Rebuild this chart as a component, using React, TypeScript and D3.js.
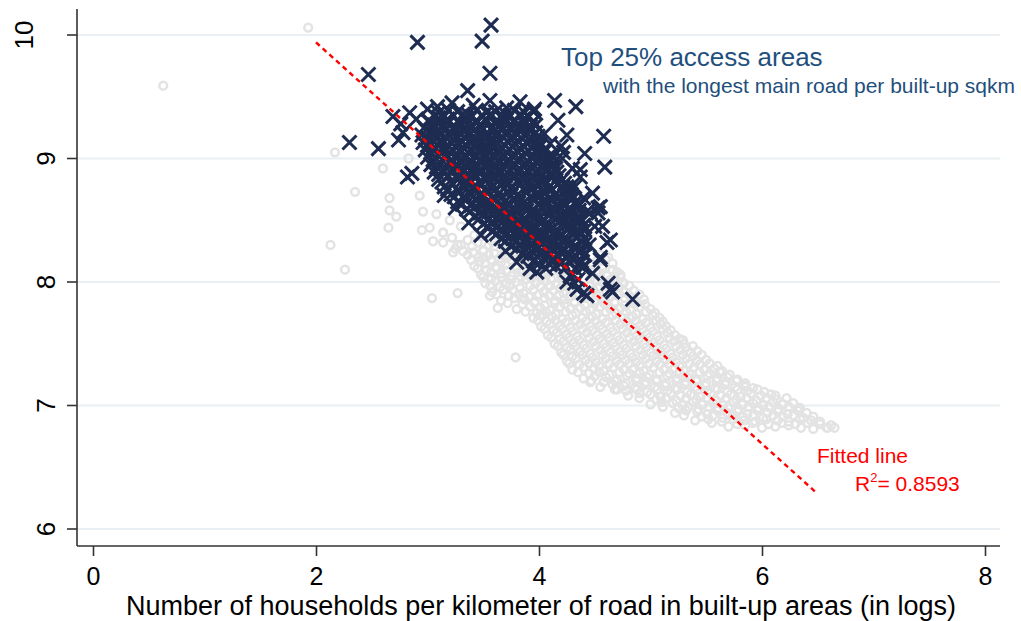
import { useEffect, useRef } from 'react';
import * as d3 from 'd3';

const xTicks = [0, 2, 4, 6, 8];
const yTicks = [6, 7, 8, 9, 10];

// fitted line end points (x, y)
const fitX = [2.0, 6.48];
const fitY = [9.94, 6.3];
const rSquared = '0.8593';

const xTitle = 'Number of households per kilometer of road in built-up areas (in logs)';
const noteTitle = 'Top 25% access areas';
const noteSub = 'with the longest main road per built-up sqkm';

// grey circles: all areas (outlying ones)
const greyOutliers: [number, number][] = [
  [1.93, 10.06], [0.63, 9.59], [2.17, 9.05], [2.13, 8.30], [2.26, 8.10], [2.60, 8.92], [2.35, 8.73],
  [2.66, 8.68], [2.66, 8.58], [2.72, 8.53], [2.65, 8.44], [2.93, 8.70], [2.96, 8.57], [2.95, 8.42],
  [2.83, 9.00], [3.04, 7.87], [3.27, 7.91], [3.56, 7.89], [3.63, 7.79], [3.79, 7.39], [4.46, 7.19],
  [4.70, 7.13], [6.59, 6.82], [6.12, 7.08], [6.34, 6.98], [3.23, 8.24], [3.14, 8.40], [3.27, 8.30],
  [3.20, 8.50], [3.08, 8.55], [3.50, 8.20], [4.01, 7.73], [4.73, 8.06], [5.29, 7.53], [5.85, 7.15],
];

// grey circles: the dense band
const greyBand: [number, number][] = [
  [3.02, 8.44], [3.14, 8.40], [3.30, 8.45], [3.42, 8.38],
  [3.05, 8.33], [3.22, 8.36], [3.36, 8.34], [3.48, 8.37], [3.58, 8.33],
  [3.25, 8.27], [3.40, 8.29], [3.50, 8.26], [3.60, 8.29], [3.70, 8.27],
  [3.36, 8.22], [3.46, 8.20], [3.55, 8.22], [3.64, 8.19], [3.73, 8.21], [3.82, 8.20], [4.55, 8.22], [4.62, 8.20],
  [3.42, 8.13], [3.52, 8.15], [3.61, 8.12], [3.70, 8.14], [3.79, 8.13], [3.88, 8.15], [3.97, 8.12], [4.48, 8.14], [4.57, 8.13], [4.66, 8.15],
  [3.48, 8.06], [3.57, 8.08], [3.66, 8.07], [3.75, 8.05], [3.84, 8.08], [3.93, 8.06], [4.02, 8.05], [4.11, 8.08], [4.20, 8.06], [4.52, 8.07], [4.61, 8.05], [4.70, 8.08],
  [3.52, 7.99], [3.61, 8.01], [3.70, 7.98], [3.79, 8.00], [3.88, 8.02], [3.97, 7.99], [4.06, 8.01], [4.15, 7.98], [4.24, 8.00], [4.50, 8.01], [4.58, 7.99], [4.67, 8.02], [4.76, 7.99],
  [3.58, 7.92], [3.68, 7.94], [3.77, 7.93], [3.86, 7.91], [3.95, 7.94], [4.04, 7.92], [4.13, 7.93], [4.22, 7.91], [4.31, 7.94], [4.40, 7.92], [4.49, 7.93], [4.58, 7.91], [4.67, 7.94], [4.76, 7.92], [4.85, 7.93],
  [3.66, 7.85], [3.78, 7.87], [3.87, 7.86], [3.96, 7.84], [4.05, 7.87], [4.14, 7.85], [4.23, 7.86], [4.32, 7.84], [4.41, 7.87], [4.50, 7.85], [4.59, 7.86], [4.68, 7.84], [4.77, 7.87], [4.86, 7.85], [4.94, 7.86],
  [3.80, 7.78], [3.92, 7.80], [4.01, 7.79], [4.10, 7.77], [4.19, 7.80], [4.28, 7.78], [4.37, 7.79], [4.46, 7.77], [4.55, 7.80], [4.64, 7.78], [4.73, 7.79], [4.82, 7.77], [4.91, 7.80], [5.00, 7.78],
  [3.95, 7.71], [4.03, 7.73], [4.12, 7.72], [4.21, 7.70], [4.30, 7.73], [4.39, 7.71], [4.48, 7.72], [4.57, 7.70], [4.66, 7.73], [4.75, 7.71], [4.84, 7.72], [4.93, 7.70], [5.02, 7.73], [5.08, 7.71],
  [4.02, 7.64], [4.10, 7.66], [4.19, 7.65], [4.28, 7.63], [4.37, 7.66], [4.46, 7.64], [4.55, 7.65], [4.64, 7.63], [4.73, 7.66], [4.82, 7.64], [4.91, 7.65], [5.00, 7.63], [5.09, 7.66], [5.14, 7.64],
  [4.08, 7.57], [4.16, 7.59], [4.25, 7.58], [4.34, 7.56], [4.43, 7.59], [4.52, 7.57], [4.61, 7.58], [4.70, 7.56], [4.79, 7.59], [4.88, 7.57], [4.97, 7.58], [5.06, 7.56], [5.15, 7.59], [5.22, 7.57],
  [4.14, 7.50], [4.22, 7.52], [4.31, 7.51], [4.40, 7.49], [4.49, 7.52], [4.58, 7.50], [4.67, 7.51], [4.76, 7.49], [4.85, 7.52], [4.94, 7.50], [5.03, 7.51], [5.12, 7.49], [5.21, 7.52], [5.30, 7.50],
  [4.20, 7.43], [4.28, 7.45], [4.37, 7.44], [4.46, 7.42], [4.55, 7.45], [4.64, 7.43], [4.73, 7.44], [4.82, 7.42], [4.91, 7.45], [5.00, 7.43], [5.09, 7.44], [5.18, 7.42], [5.27, 7.45], [5.36, 7.43], [5.42, 7.44],
  [4.25, 7.36], [4.33, 7.38], [4.42, 7.37], [4.51, 7.35], [4.60, 7.38], [4.69, 7.36], [4.78, 7.37], [4.87, 7.35], [4.96, 7.38], [5.05, 7.36], [5.14, 7.37], [5.23, 7.35], [5.32, 7.38], [5.41, 7.36], [5.50, 7.37],
  [4.30, 7.29], [4.40, 7.31], [4.49, 7.30], [4.58, 7.28], [4.67, 7.31], [4.76, 7.29], [4.85, 7.30], [4.94, 7.28], [5.03, 7.31], [5.12, 7.29], [5.21, 7.30], [5.30, 7.28], [5.39, 7.31], [5.48, 7.29], [5.57, 7.30], [5.64, 7.28],
  [4.40, 7.22], [4.50, 7.24], [4.60, 7.23], [4.70, 7.21], [4.79, 7.24], [4.88, 7.22], [4.97, 7.23], [5.06, 7.21], [5.15, 7.24], [5.24, 7.22], [5.33, 7.23], [5.42, 7.21], [5.51, 7.24], [5.60, 7.22], [5.69, 7.23], [5.78, 7.21],
  [4.55, 7.15], [4.66, 7.17], [4.76, 7.16], [4.86, 7.14], [4.95, 7.17], [5.04, 7.15], [5.13, 7.16], [5.22, 7.14], [5.31, 7.17], [5.40, 7.15], [5.49, 7.16], [5.58, 7.14], [5.67, 7.17], [5.76, 7.15], [5.85, 7.16], [5.92, 7.14],
  [4.80, 7.08], [4.90, 7.10], [5.00, 7.09], [5.09, 7.07], [5.18, 7.10], [5.27, 7.08], [5.36, 7.09], [5.45, 7.07], [5.54, 7.10], [5.63, 7.08], [5.72, 7.09], [5.81, 7.07], [5.90, 7.10], [5.99, 7.08], [6.08, 7.09],
  [5.00, 7.01], [5.10, 7.03], [5.20, 7.02], [5.29, 7.00], [5.38, 7.03], [5.47, 7.01], [5.56, 7.02], [5.65, 7.00], [5.74, 7.03], [5.83, 7.01], [5.92, 7.02], [6.01, 7.00], [6.10, 7.03], [6.19, 7.01], [6.28, 7.02],
  [5.22, 6.94], [5.32, 6.96], [5.42, 6.95], [5.51, 6.93], [5.60, 6.96], [5.69, 6.94], [5.78, 6.95], [5.87, 6.93], [5.96, 6.96], [6.05, 6.94], [6.14, 6.95], [6.23, 6.93], [6.32, 6.96], [6.40, 6.94],
  [5.40, 6.88], [5.52, 6.89], [5.64, 6.87], [5.74, 6.89], [5.84, 6.88], [5.94, 6.87], [6.04, 6.89], [6.14, 6.88], [6.24, 6.87], [6.34, 6.89], [6.44, 6.88], [6.52, 6.87],
  [5.70, 6.83], [5.85, 6.84], [6.00, 6.82], [6.12, 6.83], [6.24, 6.84], [6.35, 6.82], [6.46, 6.81], [6.58, 6.82], [6.65, 6.82],
];

// grey circles: more of the band, between the rows above
const greyBandB: [number, number][] = [
  [3.14, 8.32], [3.30, 8.30], [3.45, 8.32], [3.55, 8.30], [3.65, 8.31],
  [3.32, 8.25], [3.41, 8.24], [3.50, 8.25], [3.60, 8.23], [3.69, 8.25], [3.78, 8.24],
  [3.39, 8.18], [3.47, 8.17], [3.57, 8.18], [3.66, 8.16], [3.75, 8.18], [3.84, 8.17], [3.93, 8.18], [4.52, 8.17], [4.60, 8.18],
  [3.45, 8.11], [3.53, 8.10], [3.62, 8.11], [3.71, 8.09], [3.80, 8.11], [3.89, 8.10], [3.98, 8.11], [4.07, 8.09], [4.16, 8.11], [4.48, 8.10], [4.57, 8.11], [4.66, 8.10],
  [3.50, 8.04], [3.57, 8.03], [3.66, 8.04], [3.75, 8.02], [3.84, 8.04], [3.93, 8.03], [4.02, 8.04], [4.11, 8.02], [4.20, 8.04], [4.46, 8.03], [4.55, 8.04], [4.64, 8.02], [4.73, 8.04],
  [3.56, 7.97], [3.65, 7.96], [3.74, 7.97], [3.83, 7.95], [3.92, 7.97], [4.01, 7.96], [4.10, 7.97], [4.19, 7.95], [4.28, 7.97], [4.37, 7.96], [4.46, 7.97], [4.54, 7.95], [4.63, 7.97], [4.72, 7.96], [4.81, 7.97],
  [3.62, 7.90], [3.73, 7.89], [3.82, 7.90], [3.91, 7.88], [4.00, 7.90], [4.09, 7.89], [4.18, 7.90], [4.27, 7.88], [4.36, 7.90], [4.45, 7.89], [4.54, 7.90], [4.63, 7.88], [4.72, 7.90], [4.81, 7.89], [4.90, 7.90],
  [3.72, 7.83], [3.85, 7.82], [3.96, 7.83], [4.05, 7.81], [4.14, 7.83], [4.23, 7.82], [4.32, 7.83], [4.41, 7.81], [4.50, 7.83], [4.59, 7.82], [4.68, 7.83], [4.77, 7.81], [4.86, 7.83], [4.95, 7.82],
  [3.88, 7.76], [3.98, 7.75], [4.06, 7.76], [4.15, 7.74], [4.24, 7.76], [4.33, 7.75], [4.42, 7.76], [4.51, 7.74], [4.60, 7.76], [4.69, 7.75], [4.78, 7.76], [4.87, 7.74], [4.96, 7.76], [5.04, 7.75],
  [3.99, 7.69], [4.07, 7.68], [4.15, 7.69], [4.24, 7.67], [4.33, 7.69], [4.42, 7.68], [4.51, 7.69], [4.60, 7.67], [4.69, 7.69], [4.78, 7.68], [4.87, 7.69], [4.96, 7.67], [5.05, 7.69], [5.11, 7.68],
  [4.05, 7.62], [4.13, 7.61], [4.21, 7.62], [4.30, 7.60], [4.39, 7.62], [4.48, 7.61], [4.57, 7.62], [4.66, 7.60], [4.75, 7.62], [4.84, 7.61], [4.93, 7.62], [5.02, 7.60], [5.11, 7.62], [5.18, 7.61],
  [4.11, 7.55], [4.19, 7.54], [4.27, 7.55], [4.36, 7.53], [4.45, 7.55], [4.54, 7.54], [4.63, 7.55], [4.72, 7.53], [4.81, 7.55], [4.90, 7.54], [4.99, 7.55], [5.08, 7.53], [5.17, 7.55], [5.26, 7.54],
  [4.17, 7.48], [4.25, 7.47], [4.33, 7.48], [4.42, 7.46], [4.51, 7.48], [4.60, 7.47], [4.69, 7.48], [4.78, 7.46], [4.87, 7.48], [4.96, 7.47], [5.05, 7.48], [5.14, 7.46], [5.23, 7.48], [5.32, 7.47], [5.38, 7.48],
  [4.22, 7.41], [4.30, 7.40], [4.39, 7.41], [4.48, 7.39], [4.57, 7.41], [4.66, 7.40], [4.75, 7.41], [4.84, 7.39], [4.93, 7.41], [5.02, 7.40], [5.11, 7.41], [5.20, 7.39], [5.29, 7.41], [5.38, 7.40], [5.46, 7.41],
  [4.27, 7.34], [4.36, 7.33], [4.45, 7.34], [4.54, 7.32], [4.63, 7.34], [4.72, 7.33], [4.81, 7.34], [4.90, 7.32], [4.99, 7.34], [5.08, 7.33], [5.17, 7.34], [5.26, 7.32], [5.35, 7.34], [5.44, 7.33], [5.53, 7.34], [5.60, 7.32],
  [4.35, 7.27], [4.45, 7.26], [4.54, 7.27], [4.63, 7.25], [4.72, 7.27], [4.81, 7.26], [4.90, 7.27], [4.99, 7.25], [5.08, 7.27], [5.17, 7.26], [5.26, 7.27], [5.35, 7.25], [5.44, 7.27], [5.53, 7.26], [5.62, 7.27], [5.71, 7.25],
  [4.47, 7.20], [4.58, 7.19], [4.68, 7.20], [4.78, 7.18], [4.87, 7.20], [4.96, 7.19], [5.05, 7.20], [5.14, 7.18], [5.23, 7.20], [5.32, 7.19], [5.41, 7.20], [5.50, 7.18], [5.59, 7.20], [5.68, 7.19], [5.77, 7.20], [5.85, 7.18],
  [4.68, 7.13], [4.78, 7.12], [4.88, 7.13], [4.97, 7.11], [5.06, 7.13], [5.15, 7.12], [5.24, 7.13], [5.33, 7.11], [5.42, 7.13], [5.51, 7.12], [5.60, 7.13], [5.69, 7.11], [5.78, 7.13], [5.87, 7.12], [5.96, 7.13], [6.02, 7.11],
  [4.90, 7.06], [5.05, 7.05], [5.14, 7.06], [5.23, 7.04], [5.32, 7.06], [5.41, 7.05], [5.50, 7.06], [5.59, 7.04], [5.68, 7.06], [5.77, 7.05], [5.86, 7.06], [5.95, 7.04], [6.04, 7.06], [6.13, 7.05], [6.22, 7.06],
  [5.11, 6.99], [5.25, 6.98], [5.34, 6.99], [5.43, 6.97], [5.52, 6.99], [5.61, 6.98], [5.70, 6.99], [5.79, 6.97], [5.88, 6.99], [5.97, 6.98], [6.06, 6.99], [6.15, 6.97], [6.24, 6.99], [6.33, 6.98],
  [5.30, 6.92], [5.46, 6.91], [5.56, 6.92], [5.65, 6.90], [5.74, 6.92], [5.83, 6.91], [5.92, 6.92], [6.01, 6.90], [6.10, 6.92], [6.19, 6.91], [6.28, 6.92], [6.37, 6.90], [6.46, 6.91],
  [5.55, 6.86], [5.78, 6.85], [5.92, 6.86], [6.06, 6.85], [6.18, 6.86], [6.30, 6.85], [6.41, 6.86], [6.52, 6.85], [6.62, 6.84],
];

// navy crosses: top 25% access areas, dense core
const navyCore: [number, number][] = [
  [3.10, 9.37], [3.19, 9.39], [3.27, 9.38], [3.36, 9.36], [3.44, 9.39], [3.53, 9.37], [3.61, 9.38], [3.70, 9.36], [3.78, 9.39], [3.87, 9.37], [3.95, 9.38],
  [3.01, 9.31], [3.10, 9.33], [3.18, 9.32], [3.27, 9.30], [3.35, 9.33], [3.44, 9.31], [3.52, 9.32], [3.61, 9.30], [3.69, 9.33], [3.78, 9.31], [3.86, 9.32], [3.95, 9.30],
  [2.97, 9.25], [3.06, 9.27], [3.14, 9.26], [3.23, 9.24], [3.31, 9.27], [3.40, 9.25], [3.48, 9.26], [3.57, 9.24], [3.65, 9.27], [3.74, 9.25], [3.82, 9.26], [3.91, 9.24], [3.97, 9.27],
  [2.95, 9.19], [3.03, 9.21], [3.12, 9.20], [3.20, 9.18], [3.29, 9.21], [3.37, 9.19], [3.46, 9.20], [3.54, 9.18], [3.63, 9.21], [3.71, 9.19], [3.80, 9.20], [3.88, 9.18], [3.97, 9.21],
  [2.96, 9.13], [3.05, 9.15], [3.13, 9.14], [3.22, 9.12], [3.30, 9.15], [3.39, 9.13], [3.47, 9.14], [3.56, 9.12], [3.64, 9.15], [3.73, 9.13], [3.81, 9.14], [3.90, 9.12], [3.99, 9.15],
  [2.98, 9.07], [3.06, 9.09], [3.15, 9.08], [3.23, 9.06], [3.32, 9.09], [3.40, 9.07], [3.49, 9.08], [3.57, 9.06], [3.66, 9.09], [3.74, 9.07], [3.83, 9.08], [3.91, 9.06], [4.00, 9.09], [4.04, 9.05],
  [3.00, 9.01], [3.09, 9.03], [3.17, 9.02], [3.26, 9.00], [3.34, 9.03], [3.43, 9.01], [3.51, 9.02], [3.60, 9.00], [3.68, 9.03], [3.77, 9.01], [3.85, 9.02], [3.94, 9.00], [4.02, 9.03], [4.08, 9.01],
  [3.03, 8.95], [3.11, 8.97], [3.20, 8.96], [3.28, 8.94], [3.37, 8.97], [3.45, 8.95], [3.54, 8.96], [3.62, 8.94], [3.71, 8.97], [3.79, 8.95], [3.88, 8.96], [3.96, 8.94], [4.05, 8.97], [4.12, 8.95],
  [3.06, 8.89], [3.14, 8.91], [3.23, 8.90], [3.31, 8.88], [3.40, 8.91], [3.48, 8.89], [3.57, 8.90], [3.65, 8.88], [3.74, 8.91], [3.82, 8.89], [3.91, 8.90], [3.99, 8.88], [4.08, 8.91], [4.16, 8.89],
  [3.10, 8.83], [3.18, 8.85], [3.27, 8.84], [3.35, 8.82], [3.44, 8.85], [3.52, 8.83], [3.61, 8.84], [3.69, 8.82], [3.78, 8.85], [3.86, 8.83], [3.95, 8.84], [4.03, 8.82], [4.12, 8.85], [4.21, 8.83],
  [3.15, 8.77], [3.23, 8.79], [3.32, 8.78], [3.40, 8.76], [3.49, 8.79], [3.57, 8.77], [3.66, 8.78], [3.74, 8.76], [3.83, 8.79], [3.91, 8.77], [4.00, 8.78], [4.08, 8.76], [4.17, 8.79], [4.25, 8.77],
  [3.21, 8.71], [3.29, 8.73], [3.38, 8.72], [3.46, 8.70], [3.55, 8.73], [3.63, 8.71], [3.72, 8.72], [3.80, 8.70], [3.89, 8.73], [3.97, 8.71], [4.06, 8.72], [4.14, 8.70], [4.23, 8.73], [4.29, 8.71],
  [3.27, 8.65], [3.35, 8.67], [3.44, 8.66], [3.52, 8.64], [3.61, 8.67], [3.69, 8.65], [3.78, 8.66], [3.86, 8.64], [3.95, 8.67], [4.03, 8.65], [4.12, 8.66], [4.20, 8.64], [4.28, 8.67], [4.33, 8.65],
  [3.35, 8.59], [3.43, 8.61], [3.52, 8.60], [3.60, 8.58], [3.69, 8.61], [3.77, 8.59], [3.86, 8.60], [3.94, 8.58], [4.03, 8.61], [4.11, 8.59], [4.20, 8.60], [4.28, 8.58], [4.35, 8.61],
  [3.42, 8.53], [3.50, 8.55], [3.59, 8.54], [3.67, 8.52], [3.76, 8.55], [3.84, 8.53], [3.93, 8.54], [4.01, 8.52], [4.10, 8.55], [4.18, 8.53], [4.27, 8.54], [4.35, 8.52],
  [3.50, 8.47], [3.58, 8.49], [3.67, 8.48], [3.75, 8.46], [3.84, 8.49], [3.92, 8.47], [4.01, 8.48], [4.09, 8.46], [4.18, 8.49], [4.26, 8.47], [4.35, 8.48], [4.40, 8.46],
  [3.58, 8.41], [3.66, 8.43], [3.75, 8.42], [3.83, 8.40], [3.92, 8.43], [4.00, 8.41], [4.09, 8.42], [4.17, 8.40], [4.26, 8.43], [4.34, 8.41], [4.41, 8.42],
  [3.66, 8.35], [3.74, 8.37], [3.83, 8.36], [3.91, 8.34], [4.00, 8.37], [4.08, 8.35], [4.17, 8.36], [4.25, 8.34], [4.34, 8.37], [4.41, 8.35],
  [3.75, 8.29], [3.83, 8.31], [3.92, 8.30], [4.00, 8.28], [4.09, 8.31], [4.17, 8.29], [4.26, 8.30], [4.34, 8.28], [4.41, 8.31],
  [3.85, 8.23], [3.93, 8.25], [4.02, 8.24], [4.10, 8.22], [4.19, 8.25], [4.27, 8.23], [4.36, 8.24], [4.41, 8.22],
  [3.95, 8.17], [4.04, 8.19], [4.12, 8.18], [4.21, 8.16], [4.29, 8.19], [4.38, 8.17],
  [4.06, 8.11], [4.15, 8.13], [4.24, 8.12], [4.33, 8.10], [4.39, 8.12],
];

// navy crosses: more of the core, between the rows above
const navyCoreB: [number, number][] = [
  [3.06, 9.35], [3.15, 9.34], [3.23, 9.35], [3.32, 9.36], [3.40, 9.34], [3.49, 9.35], [3.57, 9.36], [3.66, 9.34], [3.74, 9.35], [3.83, 9.36], [3.91, 9.34],
  [3.02, 9.29], [3.10, 9.28], [3.19, 9.29], [3.27, 9.30], [3.36, 9.28], [3.44, 9.29], [3.53, 9.30], [3.61, 9.28], [3.70, 9.29], [3.78, 9.30], [3.87, 9.28], [3.94, 9.29],
  [2.99, 9.23], [3.08, 9.22], [3.16, 9.23], [3.25, 9.24], [3.33, 9.22], [3.42, 9.23], [3.50, 9.24], [3.59, 9.22], [3.67, 9.23], [3.76, 9.24], [3.84, 9.22], [3.93, 9.23],
  [3.00, 9.17], [3.08, 9.16], [3.17, 9.17], [3.25, 9.18], [3.34, 9.16], [3.42, 9.17], [3.51, 9.18], [3.59, 9.16], [3.68, 9.17], [3.76, 9.18], [3.85, 9.16], [3.93, 9.17], [3.99, 9.18],
  [3.01, 9.11], [3.10, 9.10], [3.18, 9.11], [3.27, 9.12], [3.35, 9.10], [3.44, 9.11], [3.52, 9.12], [3.61, 9.10], [3.69, 9.11], [3.78, 9.12], [3.86, 9.10], [3.95, 9.11], [4.01, 9.12],
  [3.03, 9.05], [3.12, 9.04], [3.20, 9.05], [3.29, 9.06], [3.37, 9.04], [3.46, 9.05], [3.54, 9.06], [3.63, 9.04], [3.71, 9.05], [3.80, 9.06], [3.88, 9.04], [3.97, 9.05], [4.05, 9.06],
  [3.05, 8.99], [3.14, 8.98], [3.22, 8.99], [3.31, 9.00], [3.39, 8.98], [3.48, 8.99], [3.56, 9.00], [3.65, 8.98], [3.73, 8.99], [3.82, 9.00], [3.90, 8.98], [3.99, 8.99], [4.07, 9.00], [4.10, 8.98],
  [3.08, 8.93], [3.17, 8.92], [3.25, 8.93], [3.34, 8.94], [3.42, 8.92], [3.51, 8.93], [3.59, 8.94], [3.68, 8.92], [3.76, 8.93], [3.85, 8.94], [3.93, 8.92], [4.02, 8.93], [4.10, 8.94], [4.15, 8.92],
  [3.10, 8.87], [3.19, 8.86], [3.27, 8.87], [3.36, 8.88], [3.44, 8.86], [3.53, 8.87], [3.61, 8.88], [3.70, 8.86], [3.78, 8.87], [3.87, 8.88], [3.95, 8.86], [4.04, 8.87], [4.12, 8.88], [4.18, 8.86],
  [3.13, 8.81], [3.22, 8.80], [3.30, 8.81], [3.39, 8.82], [3.47, 8.80], [3.56, 8.81], [3.64, 8.82], [3.73, 8.80], [3.81, 8.81], [3.90, 8.82], [3.98, 8.80], [4.07, 8.81], [4.15, 8.82], [4.23, 8.80],
  [3.18, 8.75], [3.27, 8.74], [3.35, 8.75], [3.44, 8.76], [3.52, 8.74], [3.61, 8.75], [3.69, 8.76], [3.78, 8.74], [3.86, 8.75], [3.95, 8.76], [4.03, 8.74], [4.12, 8.75], [4.20, 8.76], [4.27, 8.74],
  [3.24, 8.69], [3.33, 8.68], [3.41, 8.69], [3.50, 8.70], [3.58, 8.68], [3.67, 8.69], [3.75, 8.70], [3.84, 8.68], [3.92, 8.69], [4.01, 8.70], [4.09, 8.68], [4.18, 8.69], [4.26, 8.70], [4.31, 8.68],
  [3.31, 8.63], [3.39, 8.62], [3.48, 8.63], [3.56, 8.64], [3.65, 8.62], [3.73, 8.63], [3.82, 8.64], [3.90, 8.62], [3.99, 8.63], [4.07, 8.64], [4.16, 8.62], [4.24, 8.63], [4.32, 8.64],
  [3.38, 8.57], [3.47, 8.56], [3.55, 8.57], [3.64, 8.58], [3.72, 8.56], [3.81, 8.57], [3.89, 8.58], [3.98, 8.56], [4.06, 8.57], [4.15, 8.58], [4.23, 8.56], [4.31, 8.57], [4.36, 8.58],
  [3.46, 8.51], [3.54, 8.50], [3.63, 8.51], [3.71, 8.52], [3.80, 8.50], [3.88, 8.51], [3.97, 8.52], [4.05, 8.50], [4.14, 8.51], [4.22, 8.52], [4.31, 8.50], [4.38, 8.51],
  [3.54, 8.45], [3.62, 8.44], [3.71, 8.45], [3.79, 8.46], [3.88, 8.44], [3.96, 8.45], [4.05, 8.46], [4.13, 8.44], [4.22, 8.45], [4.30, 8.46], [4.38, 8.44],
  [3.62, 8.39], [3.70, 8.38], [3.79, 8.39], [3.87, 8.40], [3.96, 8.38], [4.04, 8.39], [4.13, 8.40], [4.21, 8.38], [4.30, 8.39], [4.38, 8.40],
  [3.70, 8.33], [3.79, 8.32], [3.87, 8.33], [3.96, 8.34], [4.04, 8.32], [4.13, 8.33], [4.21, 8.34], [4.30, 8.32], [4.38, 8.33],
  [3.80, 8.27], [3.88, 8.26], [3.97, 8.27], [4.05, 8.28], [4.14, 8.26], [4.22, 8.27], [4.31, 8.28], [4.39, 8.26],
  [3.90, 8.21], [3.99, 8.20], [4.07, 8.21], [4.16, 8.22], [4.24, 8.20], [4.33, 8.21], [4.40, 8.22],
  [4.00, 8.15], [4.10, 8.14], [4.19, 8.15], [4.28, 8.16], [4.36, 8.14],
];

// navy crosses: scattered ones around the core
const navyOutliers: [number, number][] = [
  [3.57, 10.08], [3.49, 9.95], [2.91, 9.94], [3.56, 9.69], [2.47, 9.68], [3.36, 9.55], [2.30, 9.13],
  [2.56, 9.08], [4.14, 9.47], [4.33, 9.42], [4.17, 9.31], [4.25, 9.19], [4.58, 9.18], [4.59, 8.93],
  [4.41, 9.04], [2.82, 8.85], [2.86, 8.88], [2.69, 9.34], [2.78, 9.21], [2.84, 9.37], [3.09, 9.42],
  [3.22, 9.45], [3.41, 9.43], [3.56, 9.47], [3.71, 9.41], [3.83, 9.46], [3.96, 9.40], [3.92, 9.26],
  [4.12, 9.01], [4.21, 9.00], [4.30, 8.92], [4.37, 8.85], [4.32, 8.77], [4.53, 8.60], [4.43, 8.57],
  [4.53, 8.56], [4.61, 8.32], [4.55, 8.18], [4.62, 7.99], [4.66, 7.92], [4.84, 7.86], [4.43, 7.89],
  [4.34, 7.94], [3.98, 8.08], [3.92, 8.11], [4.48, 8.07], [4.50, 8.45], [4.45, 8.30], [4.57, 8.45],
  [4.40, 8.12], [4.35, 8.02], [4.28, 8.05], [2.76, 9.28], [2.74, 9.15], [2.90, 9.32], [3.00, 9.40],
  [4.05, 9.20], [4.10, 9.12], [4.20, 9.10], [4.48, 8.72], [4.40, 8.68], [3.25, 8.60], [3.37, 8.48],
  [3.15, 8.70], [3.48, 8.38], [3.70, 8.25], [3.80, 8.16], [4.25, 8.00], [4.13, 9.02], [4.22, 9.05],
  [4.37, 8.91], [4.46, 8.56], [4.55, 8.61], [4.64, 8.34], [4.55, 8.20], [4.64, 7.94], [4.32, 7.99],
  [4.40, 7.91],
];

const font = "Arial, 'Liberation Sans', Helvetica, sans-serif";

function ScatterChart() {
  const svgRef = useRef<SVGSVGElement>(null);

  useEffect(() => {
    const svg = d3.select(svgRef.current);
    svg.selectAll('*').remove();

    const left = 77, right = 1000, top = 9, bottom = 546;
    const x = d3.scaleLinear().domain([0, 8]).range([93, 985]);
    const y = d3.scaleLinear().domain([6, 10]).range([529, 35]);

    // grid lines
    svg.append('g')
      .selectAll('line')
      .data(yTicks)
      .enter()
      .append('line')
      .attr('x1', left)
      .attr('x2', right)
      .attr('y1', d => y(d))
      .attr('y2', d => y(d))
      .attr('stroke', '#e9eff2')
      .attr('stroke-width', 2);

    // grey hollow circles
    svg.append('g')
      .selectAll('circle')
      .data([...greyOutliers, ...greyBand, ...greyBandB])
      .enter()
      .append('circle')
      .attr('cx', d => x(d[0]))
      .attr('cy', d => y(d[1]))
      .attr('r', 3.9)
      .attr('fill', 'none')
      .attr('stroke', '#e3e3e3')
      .attr('stroke-width', 2.5);

    // navy crosses
    const s = 7;
    svg.append('g')
      .selectAll('path')
      .data([...navyCore, ...navyCoreB, ...navyOutliers])
      .enter()
      .append('path')
      .attr('d', d => {
        const cx = x(d[0]), cy = y(d[1]);
        return `M${cx - s},${cy - s}L${cx + s},${cy + s}M${cx - s},${cy + s}L${cx + s},${cy - s}`;
      })
      .attr('fill', 'none')
      .attr('stroke', '#1e2c52')
      .attr('stroke-width', 3);

    // fitted line
    const line = d3.line<number>()
      .x(d => x(d))
      .y((d, i) => y(fitY[i]));
    svg.append('path')
      .datum(fitX)
      .attr('fill', 'none')
      .attr('stroke', '#ff0000')
      .attr('stroke-width', 2.4)
      .attr('stroke-dasharray', '5 4')
      .attr('d', line);

    // axes
    const axisColor = '#333333';
    svg.append('line')
      .attr('x1', left).attr('x2', left).attr('y1', top).attr('y2', bottom)
      .attr('stroke', axisColor).attr('stroke-width', 1.6);
    svg.append('line')
      .attr('x1', left).attr('x2', right).attr('y1', bottom).attr('y2', bottom)
      .attr('stroke', axisColor).attr('stroke-width', 1.6);

    const xAxis = svg.append('g')
      .attr('transform', `translate(0,${bottom})`)
      .call(d3.axisBottom(x).tickValues(xTicks).tickSize(10).tickPadding(11).tickFormat(d3.format('d')));
    xAxis.select('.domain').remove();
    xAxis.selectAll('line').attr('stroke', axisColor).attr('stroke-width', 1.6);
    xAxis.selectAll('text')
      .attr('fill', '#000')
      .style('font-family', font)
      .style('font-size', '25px');

    svg.append('g')
      .selectAll('line')
      .data(yTicks)
      .enter()
      .append('line')
      .attr('x1', left - 10)
      .attr('x2', left)
      .attr('y1', d => y(d))
      .attr('y2', d => y(d))
      .attr('stroke', axisColor)
      .attr('stroke-width', 1.6);

    svg.append('g')
      .selectAll('text')
      .data(yTicks)
      .enter()
      .append('text')
      .attr('transform', d => `translate(${d >= 10 ? 33 : 55},${y(d)}) rotate(-90)`)
      .attr('text-anchor', 'middle')
      .style('font-family', font)
      .style('font-size', '26px')
      .attr('fill', '#000')
      .text(d => d);

    // axis title
    svg.append('text')
      .attr('x', 541)
      .attr('y', 615)
      .attr('text-anchor', 'middle')
      .style('font-family', font)
      .style('font-size', '27px')
      .attr('fill', '#000')
      .text(xTitle);

    // notes
    svg.append('text')
      .attr('x', 561)
      .attr('y', 66)
      .style('font-family', font)
      .style('font-size', '26px')
      .attr('fill', '#1f4f7c')
      .text(noteTitle);
    svg.append('text')
      .attr('x', 603)
      .attr('y', 93)
      .style('font-family', font)
      .style('font-size', '21px')
      .attr('fill', '#1f4f7c')
      .text(noteSub);

    svg.append('text')
      .attr('x', 817)
      .attr('y', 463)
      .style('font-family', font)
      .style('font-size', '21px')
      .attr('fill', '#ff0000')
      .text('Fitted line');

    const r2 = svg.append('text')
      .attr('x', 855)
      .attr('y', 491)
      .style('font-family', font)
      .style('font-size', '21px')
      .attr('fill', '#ff0000');
    r2.append('tspan').text('R');
    r2.append('tspan').attr('dy', -9).style('font-size', '13px').text('2');
    r2.append('tspan').attr('dy', 9).text(`= ${rSquared}`);
  }, []);

  return (
    <div style={{ position: 'absolute', left: 0, top: 0 }}>
      <svg ref={svgRef} width={1021} height={621} style={{ display: 'block', background: '#fff' }} />
    </div>
  );
}

export default function App() {
  return <ScatterChart />;
}
